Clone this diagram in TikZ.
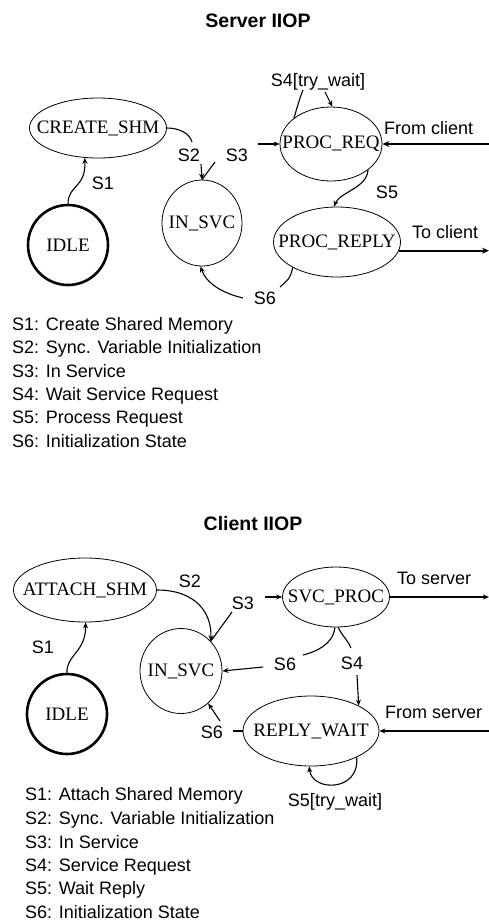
\documentclass[tikz,border=0pt]{standalone}
\usepackage{fontspec}
\setmainfont{Liberation Serif}
\newfontfamily\lsans{Liberation Sans}
\usetikzlibrary{shapes.geometric,arrows.meta}
\newcommand\nfont{\fontsize{19}{22}\selectfont}
\newcommand\lfont{\lsans\fontsize{18}{20}\selectfont}
\newcommand\tfont{\lsans\bfseries\fontsize{19.5}{22}\selectfont}
\begin{document}
\begin{tikzpicture}[x=1pt,y=-1pt,
 state/.style={ellipse,draw,line width=0.8pt,inner sep=0pt,font=\nfont},
 startstate/.style={circle,draw,line width=2.6pt,inner sep=0pt,minimum size=80pt,font=\nfont},
 tr/.style={line width=1.1pt},
 arr/.style={tr,-{Stealth[length=6pt,width=5pt]}},
 thickarr/.style={line width=2.4pt,-{Stealth[length=7pt,width=6pt]}},
 lbl/.style={font=\lfont,inner sep=0pt},
 ttl/.style={font=\tfont,inner sep=0pt},
 leg/.style={font=\lfont,inner sep=0pt,anchor=base west}]
\path[use as bounding box,fill=white] (0,0) rectangle (489,922);

% ---------------- Server ----------------
\node[ttl] (t1) at (258,21) {Server IIOP};
\node[state,minimum width=137pt,minimum height=60pt] (cs) at (98,128) {\makebox[0pt]{CREATE\_SHM}};
\node[startstate] (idle1) at (68,245) {IDLE};
\node[state,minimum width=80pt,minimum height=86pt] (is1) at (202,223) {\makebox[0pt]{IN\_SVC}};
\node[state,minimum width=102pt,minimum height=74pt] (preq) at (331,144) {\makebox[0pt]{PROC\_REQ}};
\node[state,minimum width=127pt,minimum height=70pt] (prep) at (337,242) {\makebox[0pt]{PROC\_REPLY}};

% S1
\draw[arr] (idle1.north) .. controls (68,185) and (86,188) .. (cs.-114);
% S2
\coordinate (s2a) at (192,142);
\draw[tr] (cs.east) .. controls (180,128) and (190,134) .. (s2a);
\coordinate (s2b) at (201,164);
\draw[arr] (s2b) -- (is1.north);
% S3
\coordinate (s3a) at (215,162);
\draw[tr] (s3a) -- (is1.north);
\coordinate (s3b) at (258,144);
\draw[arr] (s3b) -- (preq.west);
% S4 loop
\coordinate (s4a) at (303,90);
\coordinate (s4b) at (325,92);
\draw[tr] (preq.145) .. controls (297,108) and (300,97) .. (s4a);
\draw[arr] (s4b) .. controls (328,98) .. (preq.88);
% From client
\coordinate (fc) at (492,144);
\draw[thickarr] (fc) -- (preq.east);
% S5
\draw[arr] (preq.-35) .. controls (367,188) and (340,192) .. (prep.95);
% To client
\coordinate (tc) at (489,250);
\draw[thickarr] (prep.-8) -- (tc |- prep.-8);
% S6
\coordinate (s6a) at (280,287);
\coordinate (s6b) at (243,298);
\draw[tr] (prep.-150) .. controls (290,278) .. (s6a);
\draw[arr] (s6b) .. controls (222,293) and (206,283) .. (is1.-92);

\node[lbl] (l1) at (103,183) {S1};
\node[lbl] (l2) at (189,155) {S2};
\node[lbl] (l3) at (237,155) {S3};
\node[lbl] (l4) at (318,82) {S4[try\_wait]};
\node[lbl] (l5) at (387,192) {S5};
\node[lbl] (l6) at (265,298) {S6};
\node[lbl,anchor=west] (lfc) at (384,128) {From client};
\node[lbl,anchor=west] (ltc) at (412,232) {To client};

\node[leg] (g1) at (12,330) {S1: Create Shared Memory};
\node[leg] (g2) at (12,353) {S2: Sync. Variable Initialization};
\node[leg] (g3) at (12,377) {S3: In Service};
\node[leg] (g4) at (12,400) {S4: Wait Service Request};
\node[leg] (g5) at (12,423) {S5: Process Request};
\node[leg] (g6) at (12,447) {S6: Initialization State};

% ---------------- Client ----------------
\node[ttl] (t2) at (253,524) {Client IIOP};
\node[state,minimum width=143pt,minimum height=64pt] (as) at (85,590) {\makebox[0pt]{ATTACH\_SHM}};
\node[startstate] (idle2) at (67,714) {IDLE};
\node[state,minimum width=82pt,minimum height=85pt] (is2) at (181,671) {\makebox[0pt]{IN\_SVC}};
\node[state,minimum width=107pt,minimum height=60pt] (svc) at (336,597) {\makebox[0pt]{SVC\_PROC}};
\node[state,minimum width=136pt,minimum height=70pt] (rw) at (311,731) {\makebox[0pt]{REPLY\_WAIT}};

% S1
\draw[arr] (idle2.north) .. controls (66,655) and (86,652) .. (as.-89);
% S2
\draw[arr] (as.east) .. controls (195,590) and (212,612) .. (is2.45);
% S3
\coordinate (c3a) at (232,612);
\draw[tr] (c3a) -- (is2.45);
\coordinate (c3b) at (265,597);
\draw[arr] (c3b) -- (svc.west);
% To server
\coordinate (ts) at (489,597);
\draw[arr] (svc.east) -- (ts);
% S6 upper
\coordinate (c6a) at (303,655);
\draw[tr] (svc.-92) .. controls (333,645) and (315,652) .. (c6a);
\coordinate (c6b) at (263,667);
\draw[arr] (c6b) -- (is2.east);
% S4
\coordinate (c4a) at (351,648);
\draw[tr] (svc.-86) .. controls (343,637) and (349,642) .. (c4a);
\coordinate (c4b) at (357,675);
\draw[arr] (c4b) -- (rw.28);
% From server
\coordinate (fs) at (489,731);
\draw[arr] (fs) -- (rw.east);
% S6 lower
\coordinate (c6c) at (233,731);
\draw[tr] (rw.west) -- (c6c);
\coordinate (c6d) at (220,721);
\draw[arr] (c6d) -- (is2.-50);
% S5 loop
\draw[arr] (rw.-30) .. controls (360,792) and (312,792) .. (rw.-93);

\node[lbl] (k1) at (43,647) {S1};
\node[lbl] (k2) at (190,581) {S2};
\node[lbl] (k3) at (243,603) {S3};
\node[lbl,anchor=west] (kts) at (397,578) {To server};
\node[lbl] (k6a) at (285,664) {S6};
\node[lbl] (k4) at (352,663) {S4};
\node[lbl,anchor=west] (kfs) at (385,712) {From server};
\node[lbl] (k6b) at (212,732) {S6};
\node[lbl] (k5) at (335,802) {S5[try\_wait]};

\node[leg] (h1) at (25,800) {S1: Attach Shared Memory};
\node[leg] (h2) at (25,824) {S2: Sync. Variable Initialization};
\node[leg] (h3) at (25,848) {S3: In Service};
\node[leg] (h4) at (25,871) {S4: Service Request};
\node[leg] (h5) at (25,894) {S5: Wait Reply};
\node[leg] (h6) at (25,918) {S6: Initialization State};
\end{tikzpicture}
\end{document}
